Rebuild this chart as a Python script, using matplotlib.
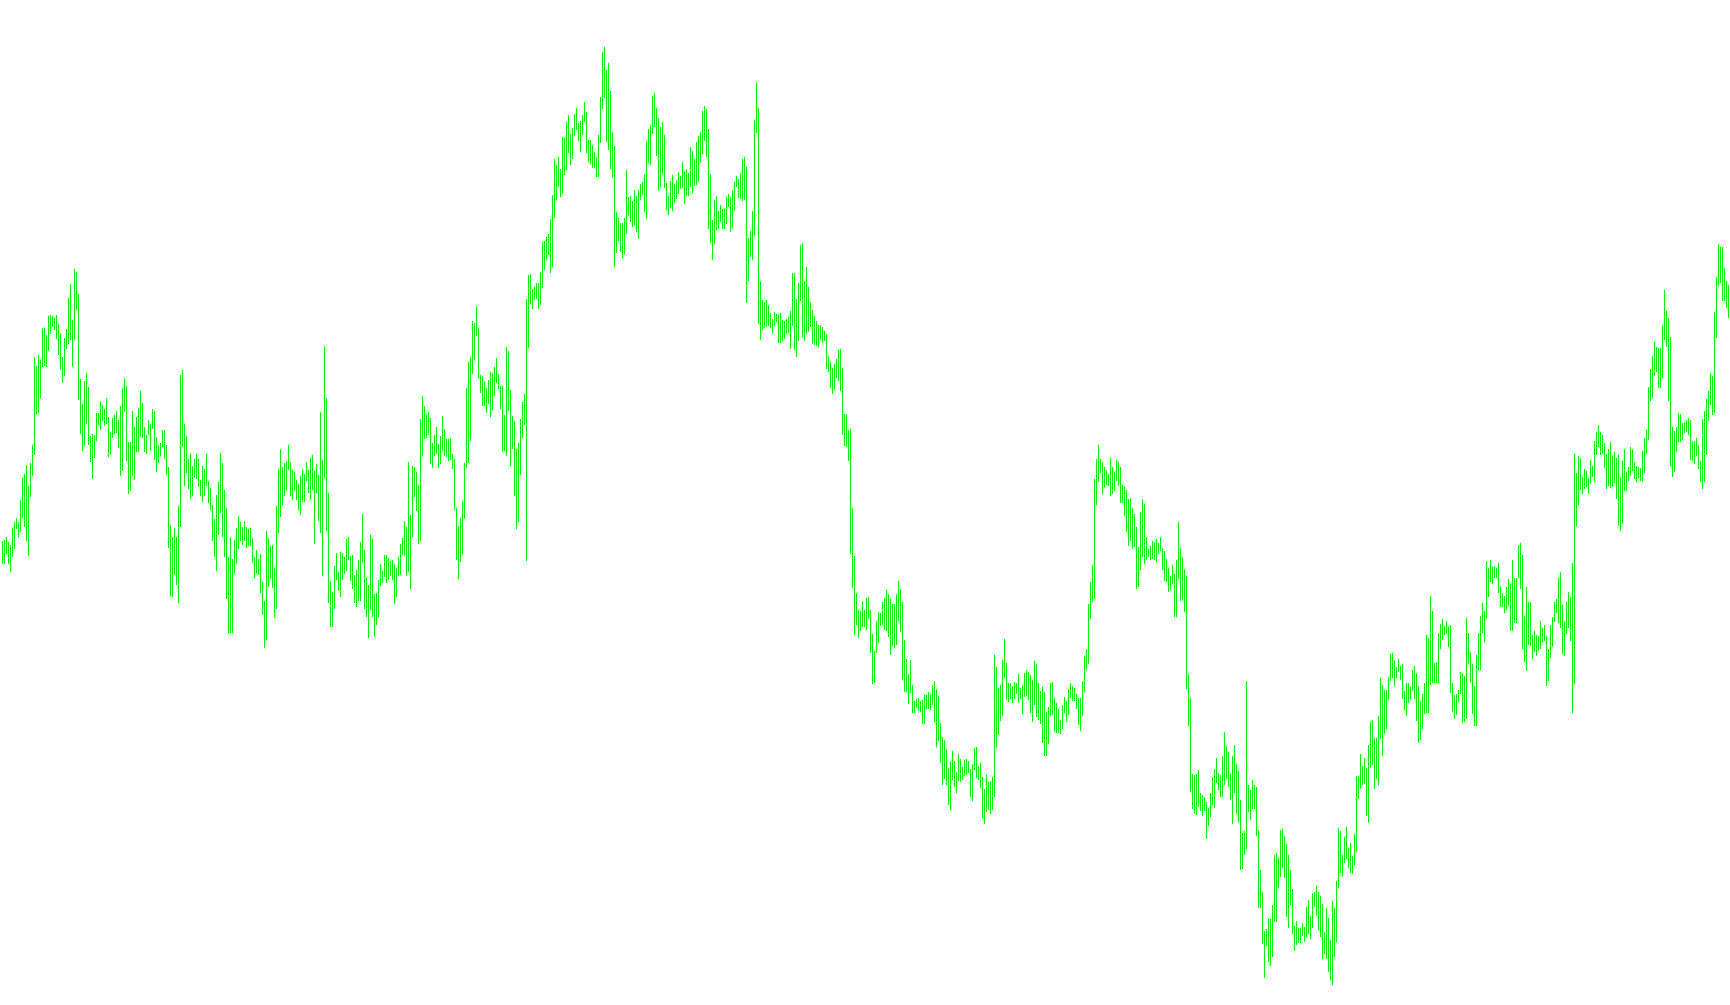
import numpy as np
import matplotlib
matplotlib.use('Agg')
import matplotlib.pyplot as plt

# highs and lows of each bar, oldest first (865 bars)
high = [
    459, 460, 463, 458, 455, 472, 478, 482, 478, 500, 522, 526, 535, 514, 537, 555, 643, 634, 645, 640,
    672, 672, 665, 684, 685, 684, 682, 685, 676, 667, 643, 662, 671, 702, 716, 680, 731, 728, 706, 621,
    596, 619, 627, 613, 564, 566, 565, 587, 587, 599, 595, 591, 602, 583, 568, 582, 585, 589, 580, 594,
    612, 622, 614, 558, 558, 589, 573, 583, 592, 609, 597, 573, 565, 580, 576,
    591, 589, 563, 555, 557, 570, 570, 555, 533, 475, 463, 472, 463, 494, 625, 630, 576, 564, 541, 547,
    534, 541, 546, 541, 520, 534, 531, 546, 519, 512, 495, 481, 505, 518, 547, 537, 510, 492, 443, 463,
    441, 460, 472, 484, 478, 473, 479, 473, 471, 472, 462, 443, 450, 441, 446, 418, 399, 469, 462, 454,
    455, 432, 494, 531, 551, 533, 537, 539, 555, 538, 530, 528,
    520, 516, 524, 531, 526, 538, 530, 542, 545, 529, 536, 525, 588, 540, 654, 602, 507, 419, 408, 434,
    447, 428, 448, 447, 443, 461, 463, 444, 445, 425, 430, 440, 458, 486, 450, 423, 415, 465, 461, 406,
    407, 420, 436, 429, 445, 445, 442, 439, 440, 436, 432, 443, 456, 462, 479, 473, 538, 485, 534, 533,
    528, 515, 581, 604, 594, 586, 588, 582, 557, 565, 573, 556, 564,
    584, 571, 561, 561, 562, 546, 541, 492, 474, 482, 499, 537, 612, 638, 643, 679, 677, 694, 672, 625,
    624, 619, 612, 620, 628, 627, 633, 642, 626, 614, 614, 585, 653, 649, 610, 584, 579, 551, 557, 581,
    598, 606, 701, 725, 726, 711, 713, 717, 717, 728, 758, 759, 763, 766, 781, 805, 841, 835, 843, 831,
    863, 862, 878, 885, 866, 872, 886, 892, 877, 879, 885, 898,
    888, 860, 860, 855, 848, 843, 865, 903, 948, 953, 930, 937, 909, 868, 854, 788, 782, 777, 777, 782,
    830, 803, 804, 799, 810, 804, 810, 816, 818, 826, 859, 871, 875, 904, 907, 892, 882, 873, 878, 865,
    817, 804, 819, 825, 816, 820, 828, 824, 838, 829, 831, 827, 853, 849, 841, 858, 864, 868, 889, 894,
    891, 871, 826, 780, 800, 804, 789, 795, 791, 792, 803, 806, 803,
    810, 818, 824, 821, 827, 841, 843, 833, 762, 769, 789, 880, 918, 892, 719, 700, 698, 700, 695, 687,
    681, 688, 686, 686, 687, 680, 679, 681, 683, 689, 727, 727, 701, 717, 755, 757, 719, 733, 713, 698,
    690, 684, 679, 675, 675, 673, 669, 666, 644, 638, 632, 636, 641, 650, 651, 632, 586, 586, 570, 571,
    492, 444, 407, 390, 389, 399, 390, 402, 403, 390, 366, 349,
    379, 388, 387, 398, 402, 410, 406, 401, 396, 396, 406, 419, 411, 398, 360, 341, 326, 340, 315, 299,
    301, 302, 299, 300, 306, 305, 308, 306, 315, 319, 311, 304, 277, 263, 260, 251, 232, 239, 249, 239,
    228, 246, 241, 233, 240, 241, 239, 231, 236, 252, 253, 234, 237, 223, 211, 225, 218, 219, 223, 345,
    333, 312, 315, 340, 361, 337, 317, 317, 314, 318, 317, 326, 312, 315, 327, 330, 328, 325, 320, 339,
    336, 317, 309, 313, 308, 288, 293, 317, 318, 302, 297, 291, 280, 295, 303, 299, 311, 317, 314, 312,
    306, 302, 302, 319, 344, 351, 396, 418, 435, 521, 541, 555, 541, 538, 533, 530, 526, 542, 533, 528,
    540, 538, 533, 515, 514, 510, 501, 502, 492, 486, 473, 453, 488, 501, 496, 463, 451, 454, 459, 458,
    461, 457, 463,
    452, 449, 441, 432, 424, 435, 426, 440, 478, 452, 443, 431, 424, 326, 302, 226, 225, 226, 230, 207,
    205, 203, 198, 192, 207, 223, 231, 242, 227, 225, 244, 268, 254, 248, 227, 244, 255, 236, 229, 200,
    167, 169, 319, 215, 210, 220, 215, 213, 170, 130, 108, 69, 71, 82, 81, 95, 145, 147, 142, 170,
    171, 164, 156, 145, 130, 111, 74, 79, 72, 72, 77, 73, 93, 100, 84, 107, 108, 114, 108, 104,
    96, 68, 92, 82, 60, 99, 92, 119, 172, 169, 145, 163, 173, 152, 157, 144, 166, 224, 224, 246,
    234, 242, 232, 255, 278, 280, 262, 262, 284, 322, 315, 310, 310, 323, 346, 347, 340, 333, 341, 334,
    336, 309, 317, 317, 313, 330, 334, 327, 314, 299, 306, 317, 365, 362, 404, 389, 337, 338, 367, 376,
    381, 374, 379, 374, 375,
    317, 305, 306, 310, 328, 327, 324, 382, 367, 348, 336, 314, 345, 367, 384, 397, 389, 439, 432, 440,
    433, 434, 432, 437, 414, 407, 404, 413, 421, 416, 440, 422, 422, 455, 457, 445, 384, 413, 398, 398,
    365, 369, 365, 364, 379, 372, 375, 364, 351, 375, 383, 398, 401, 422, 428, 395, 379, 398, 408, 403,
    437, 546, 527, 544, 542, 523, 531, 529, 522, 540, 534, 559, 568, 575, 568, 565, 557, 546, 551, 558,
    544, 548, 542, 545, 523, 539, 551, 528, 533, 553, 551, 538, 534, 533, 532, 549, 562, 570, 613, 631,
    644, 658, 653, 652, 652, 675, 710, 689, 682, 663, 573, 569, 573, 587, 586, 577, 578, 580, 582, 580,
    559, 559, 562, 555, 539, 581, 589, 601, 609, 627, 624, 688, 723, 756, 753, 753, 732, 719, 715, 692,
]

low = [
    437, 437, 447, 437, 429, 444, 452, 472, 464, 469, 483, 474, 460, 445, 504, 525, 546, 587, 588, 603,
    634, 635, 634, 650, 667, 674, 671, 662, 646, 631, 618, 625, 652, 657, 661, 634, 661, 691, 601, 567,
    550, 555, 577, 556, 539, 522, 543, 560, 576, 571, 580, 575, 577, 544, 546, 563, 567, 568, 553, 525,
    530, 589, 540, 507, 510, 525, 521, 549, 549, 564, 563, 549, 547, 566, 550,
    572, 541, 529, 538, 545, 554, 542, 526, 453, 405, 404, 426, 416, 398, 474, 554, 515, 528, 512, 502,
    505, 523, 522, 514, 505, 499, 505, 515, 498, 491, 460, 444, 430, 466, 488, 464, 444, 402, 367, 368,
    368, 427, 437, 452, 460, 456, 460, 453, 455, 455, 438, 423, 427, 426, 408, 386, 353, 361, 414, 422,
    413, 383, 392, 468, 484, 496, 505, 510, 531, 505, 501, 510,
    501, 491, 486, 499, 499, 520, 508, 501, 511, 457, 508, 480, 468, 425, 523, 470, 398, 374, 374, 392,
    421, 410, 404, 421, 427, 430, 441, 420, 412, 398, 394, 400, 400, 438, 392, 384, 363, 391, 384, 364,
    376, 384, 415, 418, 424, 418, 421, 425, 421, 397, 404, 425, 426, 446, 445, 425, 429, 412, 464, 504,
    490, 457, 460, 545, 562, 563, 566, 537, 533, 545, 547, 533, 537,
    550, 545, 544, 540, 541, 532, 491, 441, 422, 439, 446, 482, 533, 538, 560, 627, 641, 665, 623, 608,
    595, 595, 588, 597, 584, 591, 605, 618, 612, 592, 549, 550, 545, 590, 535, 552, 505, 472, 479, 526,
    563, 576, 440, 653, 697, 692, 701, 702, 692, 696, 713, 731, 741, 746, 728, 734, 783, 801, 814, 804,
    807, 826, 831, 848, 836, 842, 865, 871, 860, 849, 866, 879,
    848, 839, 837, 833, 833, 824, 824, 858, 892, 903, 859, 851, 832, 823, 734, 748, 760, 749, 743, 747,
    767, 785, 779, 774, 776, 769, 762, 801, 806, 789, 782, 838, 836, 867, 874, 845, 810, 814, 827, 813,
    791, 786, 793, 790, 798, 802, 807, 812, 813, 797, 805, 805, 814, 808, 815, 816, 819, 838, 847, 860,
    844, 772, 758, 741, 757, 771, 772, 779, 772, 772, 777, 794, 769,
    773, 790, 814, 803, 802, 800, 801, 698, 720, 744, 741, 765, 868, 677, 661, 671, 673, 674, 675, 673,
    667, 675, 679, 658, 658, 660, 662, 667, 668, 652, 675, 651, 644, 660, 700, 664, 660, 667, 669, 674,
    657, 656, 655, 654, 661, 658, 660, 632, 629, 613, 607, 611, 623, 620, 610, 566, 555, 554, 540, 447,
    413, 366, 376, 363, 370, 374, 374, 371, 382, 348, 317, 318,
    348, 358, 375, 376, 371, 370, 364, 346, 355, 353, 356, 380, 369, 321, 309, 309, 297, 308, 288, 288,
    293, 290, 289, 277, 277, 292, 292, 291, 296, 279, 254, 260, 238, 216, 222, 216, 196, 191, 221, 214,
    208, 220, 219, 221, 225, 226, 228, 204, 200, 231, 223, 221, 213, 183, 177, 189, 191, 187, 191, 204,
    253, 266, 280, 285, 323, 301, 299, 302, 298, 302, 307, 298, 302, 287, 304, 305, 301, 288, 279, 296,
    284, 281, 277, 258, 245, 245, 257, 285, 286, 269, 268, 268, 267, 272, 288, 279, 286, 303, 300, 300,
    292, 276, 270, 285, 309, 331, 337, 382, 399, 402, 496, 519, 528, 507, 513, 516, 515, 505, 507, 510,
    520, 515, 498, 498, 485, 469, 455, 460, 452, 454, 412, 414, 431, 444, 437, 441, 444, 441, 442, 441,
    439, 447, 450,
    431, 420, 419, 409, 411, 417, 384, 384, 422, 400, 401, 389, 312, 275, 209, 192, 187, 186, 194, 190,
    185, 190, 162, 175, 184, 196, 193, 218, 211, 204, 204, 216, 222, 214, 201, 177, 208, 187, 179, 131,
    132, 146, 152, 189, 181, 192, 192, 165, 93, 93, 57, 23, 55, 39, 35, 44, 79, 79, 113, 124,
    133, 123, 84, 73, 96, 67, 50, 56, 58, 58, 65, 59, 64, 67, 62, 73, 94, 85, 71, 64,
    42, 47, 42, 29, 21, 16, 44, 59, 113, 128, 124, 138, 142, 133, 128, 127, 136, 149, 202, 212,
    216, 217, 185, 178, 233, 236, 212, 222, 216, 262, 245, 267, 272, 301, 320, 323, 315, 323, 329, 321,
    302, 291, 285, 298, 301, 310, 302, 280, 258, 261, 272, 287, 288, 288, 316, 318, 318, 318, 318, 352,
    361, 366, 367, 354, 308,
    289, 282, 286, 299, 307, 278, 279, 282, 337, 318, 287, 275, 275, 330, 331, 368, 358, 382, 404, 419,
    417, 423, 423, 408, 394, 394, 388, 391, 395, 370, 370, 378, 378, 423, 412, 352, 339, 330, 356, 355,
    342, 349, 345, 350, 352, 359, 360, 315, 320, 343, 354, 379, 388, 378, 373, 347, 345, 367, 373, 360,
    288, 317, 475, 496, 511, 507, 512, 514, 507, 517, 524, 519, 546, 554, 546, 547, 533, 512, 515, 513,
    514, 518, 502, 475, 470, 477, 510, 510, 520, 525, 530, 522, 519, 523, 520, 519, 528, 547, 561, 600,
    603, 625, 629, 613, 613, 623, 661, 654, 600, 535, 524, 529, 549, 559, 559, 561, 568, 569, 566, 541,
    540, 537, 545, 532, 519, 512, 519, 546, 580, 596, 586, 588, 663, 715, 718, 700, 700, 693, 683, 680,
]

bars = np.arange(len(high))

fig = plt.figure(figsize=(17.3, 10.05), dpi=100)
ax = fig.add_axes([0, 0, 1, 1])
ax.vlines(bars, low, high, colors='#11ee11', linewidth=0.72, antialiased=False)

ax.set_xlim(-0.75, len(high) - 0.75)
ax.set_ylim(-5, 1000)
ax.axis('off')

fig.savefig('out.png', dpi=100, facecolor='white')
